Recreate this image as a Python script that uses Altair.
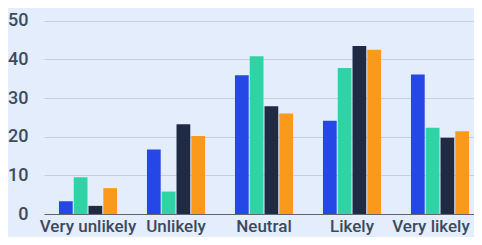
import altair as alt
import pandas as pd

categories = ["Very unlikely", "Unlikely", "Neutral", "Likely", "Very likely"]
series = ["A", "B", "C", "D"]
values_a = [3.3, 16.7, 35.9, 24.1, 36.1]
values_b = [9.5, 5.8, 40.8, 37.8, 22.3]
values_c = [2.1, 23.2, 27.9, 43.5, 19.7]
values_d = [6.7, 20.2, 26.0, 42.5, 21.4]
colors = ["#2447e6", "#2fd3a6", "#1f2a44", "#fb9a1a"]
y_ticks = [0, 10, 20, 30, 40, 50]

rows = []
for s, vals in zip(series, [values_a, values_b, values_c, values_d]):
    for c, v in zip(categories, vals):
        rows.append({"category": c, "series": s, "value": v})
df = pd.DataFrame(rows)

chart = alt.Chart(df).mark_bar().encode(
    x=alt.X("category:N", sort=categories, title=None,
            scale=alt.Scale(paddingInner=0.34, paddingOuter=0.17, range=[0, 440]),
            axis=alt.Axis(labelAngle=0, labelFont="Roboto", labelFontSize=17,
                          labelFontWeight=500, labelLimit=0,
                          labelOffset={"condition": {"test": "datum.value == 'Very likely'",
                                                     "value": -9},
                                       "value": 0},
                          labelColor="#3d4a5c", labelPadding=4, ticks=False,
                          domainColor="#666666", domainWidth=1.2, grid=False)),
    xOffset=alt.XOffset("series:N", sort=series,
                        scale=alt.Scale(paddingInner=0.07)),
    y=alt.Y("value:Q", title=None,
            scale=alt.Scale(domain=[0, 53.3], nice=False, zero=True),
            axis=alt.Axis(values=y_ticks, labelFont="Roboto", labelFontSize=18,
                          labelFontWeight=500,
                          labelColor="#3d4a5c", labelPadding=16, ticks=False,
                          domain=False, grid=True, gridColor="#c6cfe0",
                          gridWidth=1)),
    color=alt.Color("series:N", sort=series,
                    scale=alt.Scale(domain=series, range=colors), legend=None),
).properties(
    width=430, height=206,
    autosize=alt.AutoSizeParams(type="none"),
    padding={"left": 36, "top": 0, "right": 0, "bottom": 23},
    background="#e3edfc",
).configure_view(stroke=None)

chart.save("out.html", embed_options={"renderer": "svg", "actions": False})
